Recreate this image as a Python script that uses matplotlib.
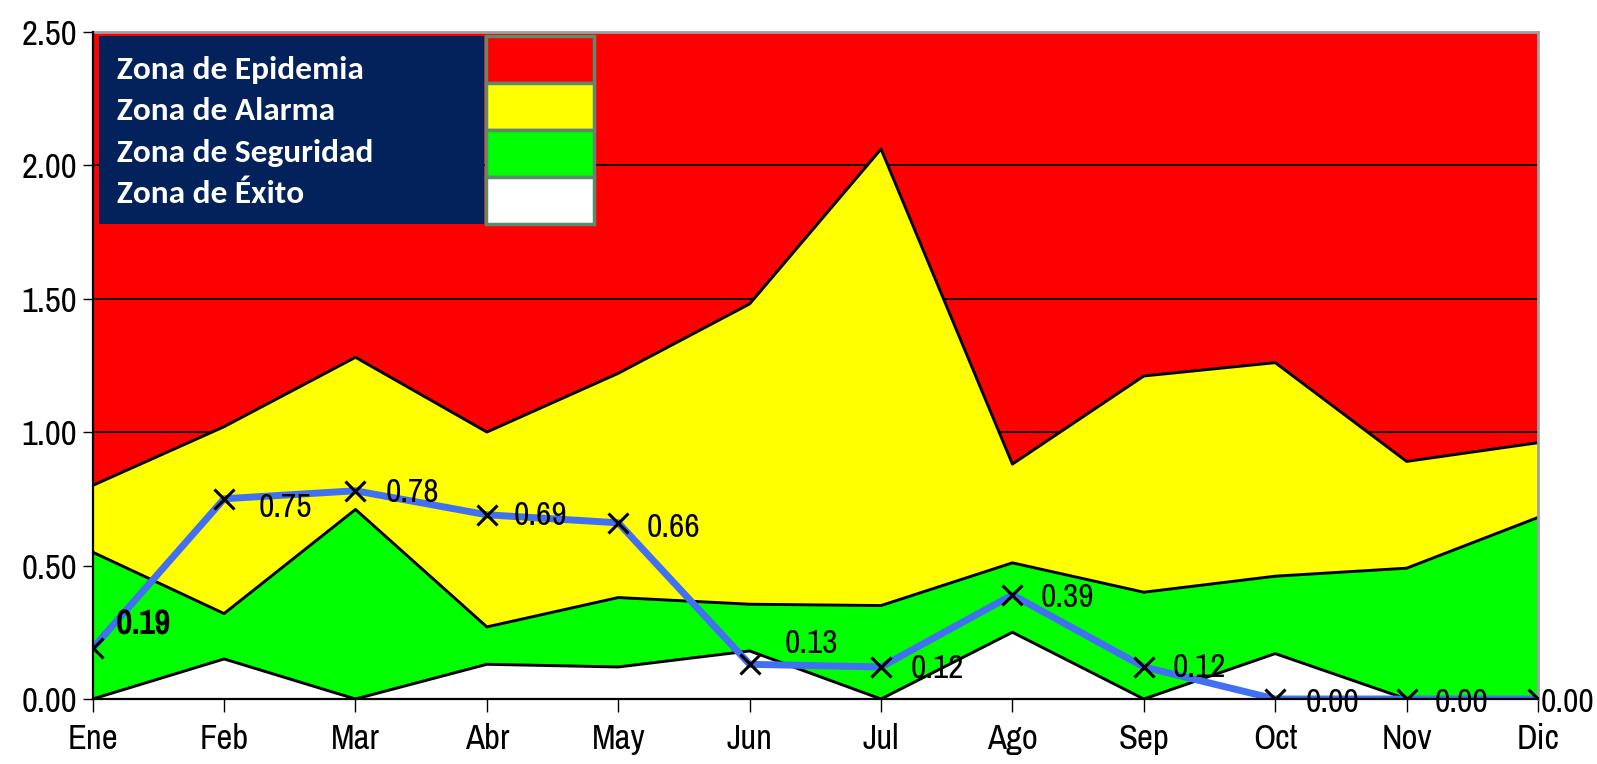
import matplotlib
matplotlib.use("Agg")
import matplotlib.pyplot as plt
import matplotlib.patheffects as pe
from matplotlib.patches import Rectangle

# monthly thresholds (upper edge of each zone) and observed index
months = ["Ene", "Feb", "Mar", "Abr", "May", "Jun", "Jul", "Ago", "Sep", "Oct", "Nov", "Dic"]
alarma_top = [0.80, 1.02, 1.28, 1.00, 1.22, 1.48, 2.06, 0.88, 1.21, 1.26, 0.89, 0.96]
seguridad_top = [0.55, 0.32, 0.71, 0.27, 0.38, 0.355, 0.35, 0.51, 0.40, 0.46, 0.49, 0.68]
exito_top = [0.00, 0.15, 0.00, 0.13, 0.12, 0.18, 0.00, 0.25, 0.00, 0.17, 0.00, 0.00]
observado = [0.19, 0.75, 0.78, 0.69, 0.66, 0.13, 0.12, 0.39, 0.12, 0.00, 0.00, 0.00]
y_ticks = [0.0, 0.5, 1.0, 1.5, 2.0, 2.5]

zonas = ["Zona de Epidemia", "Zona de Alarma", "Zona de Seguridad", "Zona de Éxito"]
zona_colors = ["#ff0000", "#ffff00", "#00ff00", "#ffffff"]

# label offsets (pixels) for the data labels
label_off = [(24, 24), (35, -9), (30, -2), (27, -1), (28, -5), (35, 20),
             (30, -2), (28, -3), (29, -1), (30, -4), (28, -4), (3, -4)]

narrow = ["Liberation Sans Narrow", "Archivo Narrow", "Liberation Sans", "DejaVu Sans"]
calibri = ["Carlito", "Lato", "DejaVu Sans"]

W, H = 1597, 764
fig = plt.figure(figsize=(W / 100, H / 100), dpi=100)
ax = fig.add_axes([92.7 / W, 1 - 699 / H, (1538 - 92.7) / W, (699 - 31.6) / H])

x = list(range(len(months)))
ax.set_facecolor(zona_colors[0])
ax.set_xlim(0, len(months) - 1)
ax.set_ylim(0, 2.5)
ax.set_axisbelow(True)
ax.yaxis.grid(True, color="black", linewidth=1.3)

ax.fill_between(x, 0, alarma_top, color=zona_colors[1], zorder=2)
ax.plot(x, alarma_top, color="black", linewidth=2.1, zorder=2.1)
ax.fill_between(x, 0, seguridad_top, color=zona_colors[2], zorder=2.2)
ax.plot(x, seguridad_top, color="black", linewidth=2.1, zorder=2.3)
ax.fill_between(x, 0, exito_top, color=zona_colors[3], zorder=2.4)
ax.plot(x, exito_top, color="black", linewidth=2.1, zorder=2.5)

ax.plot(x, observado, color="#4270f2", linewidth=5, zorder=3, solid_capstyle="round")
ax.plot(x, observado, linestyle="none", marker="x", markersize=15, markeredgewidth=2.2,
        color="black", zorder=4)

for i, v in enumerate(observado):
    t = ax.annotate(f"{v:.2f}", (x[i], v), xytext=label_off[i], textcoords="offset pixels",
                    ha="left", va="center", fontsize=24, family=narrow,
                    fontweight="bold" if i == 0 else "normal", zorder=5,
                    annotation_clip=False)
    if i == 0:
        # first label is bold in the original
        t.set_path_effects([pe.withStroke(linewidth=1.0, foreground="black")])

ax.set_xticks(x)
ax.set_xticklabels(months, family=narrow, fontsize=25)
ax.set_yticks(y_ticks)
ax.set_yticklabels([f"{t:.2f}" for t in y_ticks], family=narrow, fontsize=25)
ax.tick_params(axis="x", length=9, width=1, pad=8, direction="out")
ax.tick_params(axis="y", length=7, width=1, pad=4, direction="out")

for side in ("left", "bottom"):
    ax.spines[side].set_color("black")
    ax.spines[side].set_linewidth(1.6)
    ax.spines[side].set_zorder(6)
for side in ("top", "right"):
    ax.spines[side].set_color("#a0a0a0")
    ax.spines[side].set_linewidth(2)

# legend panel drawn on top of the plot
box_x0, box_x1, box_y0, box_y1 = 99, 484, 36, 224
fig.add_artist(Rectangle((box_x0 / W, 1 - box_y1 / H), (box_x1 - box_x0) / W,
                         (box_y1 - box_y0) / H, transform=fig.transFigure,
                         facecolor="#03215b", edgecolor="none", zorder=10))
row_h = (box_y1 - box_y0) / 4
text_y = [70, 111, 153, 194]
for k, (name, col) in enumerate(zip(zonas, zona_colors)):
    top = box_y0 + k * row_h
    fig.add_artist(Rectangle((486 / W, 1 - (top + row_h) / H), 108 / W, row_h / H,
                             transform=fig.transFigure, facecolor=col,
                             edgecolor="#5d8a6c", linewidth=2.5, zorder=11))
    fig.text(117 / W, 1 - text_y[k] / H, name, color="white",
             fontsize=24, fontweight="bold", family=calibri,
             va="center", ha="left", zorder=12)

fig.savefig("out.png", dpi=100)
